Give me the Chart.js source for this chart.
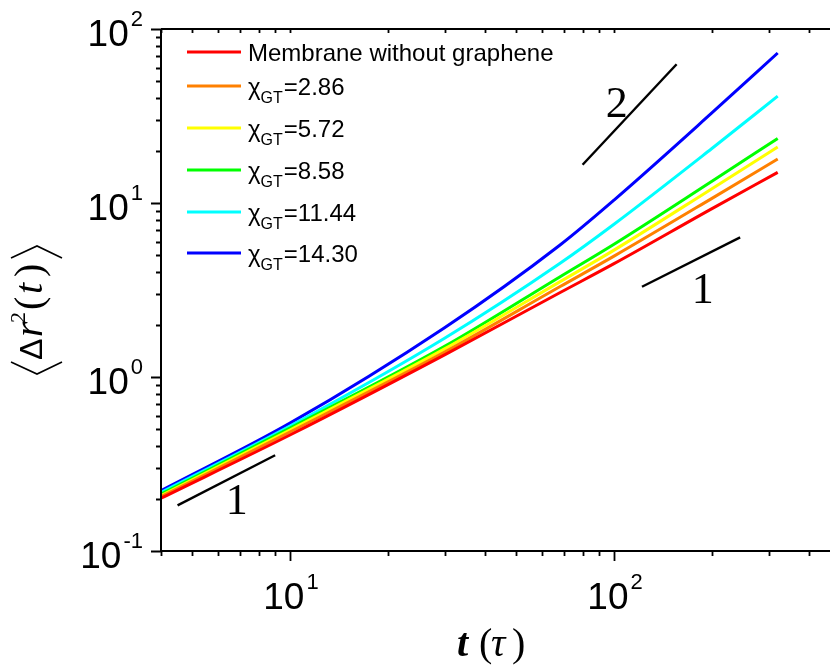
<!DOCTYPE html>
<html>
<head>
<meta charset="utf-8">
<title>Mean square displacement</title>
<script src="https://cdn.jsdelivr.net/npm/chart.js@4.4.1/dist/chart.umd.min.js"></script>
<style>
  html, body { margin: 0; padding: 0; background: #fff; }
  canvas { display: block; }
</style>
</head>
<body>
<canvas id="msdChart" width="830" height="671"></canvas>
<script>
// lag times (tau) at which the MSD curves are sampled
const lagTimes = [4, 10, 30, 68, 100, 200, 320];

// <dr^2(t)> for each membrane
const msdNoGraphene = [0.201, 0.464, 1.34, 3.05, 4.48, 9.25, 15.0];
const msdChi286 = [0.205, 0.483, 1.39, 3.30, 4.95, 10.6, 17.9];
const msdChi572 = [0.208, 0.496, 1.45, 3.52, 5.36, 12.05, 21.0];
const msdChi858 = [0.212, 0.509, 1.50, 3.76, 5.80, 13.3, 23.5];
const msdChi1144 = [0.217, 0.522, 1.67, 4.49, 7.55, 20.5, 41.1];
const msdChi1430 = [0.222, 0.543, 1.92, 5.72, 10.4, 32.8, 72.8];

const seriesLabels = ['Membrane without graphene', '2.86', '5.72', '8.58', '11.44', '14.30'];
const seriesColors = ['#ff0000', '#ff8000', '#ffff00', '#00ff00', '#00ffff', '#0000ff'];

// power-law guide segments [t, msd] and their slope labels
const guideSlope2 = [[80, 16.6], [156, 62.7]];
const guideSlope1Upper = [[122, 3.30], [245, 6.34]];
const guideSlope1Lower = [[4.5, 0.183], [9.0, 0.355]];
const guideLabels = ['2', '1', '1'];
const guideLabelPos = [[102, 31.2], [188, 2.65], [6.85, 0.163]];

// decade labels on both axes
const xDecades = [1, 2];
const yDecades = [-1, 0, 1, 2];

const SANS = '"Liberation Sans", Arial, sans-serif';
const SERIF = '"Liberation Serif", "Times New Roman", serif';

const allSeries = [msdNoGraphene, msdChi286, msdChi572, msdChi858, msdChi1144, msdChi1430];

const toPoints = (xs, ys) => xs.map((x, i) => ({ x: x, y: ys[i] }));
const segPoints = seg => seg.map(p => ({ x: p[0], y: p[1] }));

const datasets = allSeries.map((ys, i) => ({
  label: seriesLabels[i],
  data: toPoints(lagTimes, ys),
  borderColor: seriesColors[i],
  borderWidth: 3,
  pointRadius: 0,
  showLine: true,
  cubicInterpolationMode: 'monotone'
}));

[guideSlope2, guideSlope1Upper, guideSlope1Lower].forEach(seg => {
  datasets.push({
    label: 'guide',
    data: segPoints(seg),
    borderColor: '#000',
    borderWidth: 2.4,
    pointRadius: 0,
    showLine: true,
    tension: 0
  });
});

function logTicks(min, max) {
  const out = [];
  for (let d = Math.floor(Math.log10(min)); d <= Math.ceil(Math.log10(max)); d++) {
    for (let m = 1; m <= 9; m++) {
      const v = m * Math.pow(10, d);
      if (v >= min * 0.9999 && v <= max * 1.0001) out.push({ v: v, major: m === 1 });
    }
  }
  return out;
}

// "10" with a raised exponent
function drawPower(ctx, exp, x, baseline, align) {
  ctx.font = '37px ' + SANS;
  const wMain = ctx.measureText('10').width;
  ctx.font = '22px ' + SANS;
  const sup = exp < 0 ? '-' + Math.abs(exp) : String(exp);
  const wSup = ctx.measureText(sup).width;
  const total = wMain + 2 + wSup;
  const left = align === 'right' ? x - total : x - total / 2;
  ctx.textAlign = 'left';
  ctx.textBaseline = 'alphabetic';
  ctx.font = '37px ' + SANS;
  ctx.fillText('10', left, baseline);
  ctx.font = '22px ' + SANS;
  ctx.fillText(sup, left + wMain + 2, baseline - 20);
}

const framePlugin = {
  id: 'frame',
  afterDraw(chart) {
    const { ctx, chartArea: a, scales } = chart;
    const xs = scales.x, ys = scales.y;
    ctx.save();
    ctx.strokeStyle = '#000';
    ctx.fillStyle = '#000';
    ctx.lineWidth = 2;

    // axis lines: left, bottom, top
    ctx.beginPath();
    ctx.moveTo(a.left, a.top);
    ctx.lineTo(a.left, a.bottom);
    ctx.lineTo(a.right, a.bottom);
    ctx.moveTo(a.left, a.top);
    ctx.lineTo(a.right, a.top);
    ctx.stroke();

    ctx.lineWidth = 1.8;
    ctx.beginPath();
    logTicks(xs.min, xs.max).forEach(t => {
      const px = Math.round(xs.getPixelForValue(t.v)) + 0.5;
      ctx.moveTo(px, a.bottom);
      ctx.lineTo(px, a.bottom + (t.major ? 10 : 5));
      ctx.moveTo(px, a.top);
      ctx.lineTo(px, a.top + 4);
    });
    logTicks(ys.min, ys.max).forEach(t => {
      const py = Math.round(ys.getPixelForValue(t.v)) + 0.5;
      ctx.moveTo(a.left, py);
      ctx.lineTo(a.left - (t.major ? 10 : 5), py);
    });
    ctx.stroke();

    xDecades.forEach(d => {
      drawPower(ctx, d, xs.getPixelForValue(Math.pow(10, d)) + 1, a.bottom + 58, 'center');
    });
    yDecades.forEach(d => {
      drawPower(ctx, d, a.left - 18, ys.getPixelForValue(Math.pow(10, d)) + 17, 'right');
    });

    // slope labels next to the guides
    ctx.font = '44px ' + SERIF;
    ctx.textAlign = 'center';
    ctx.textBaseline = 'alphabetic';
    guideLabels.forEach((txt, i) => {
      const p = guideLabelPos[i];
      ctx.fillText(txt, xs.getPixelForValue(p[0]), ys.getPixelForValue(p[1]));
    });

    // x title: t (tau)
    ctx.textAlign = 'left';
    ctx.font = 'italic bold 40px ' + SERIF;
    ctx.fillText('t', 457, 656);
    ctx.font = '40px ' + SERIF;
    ctx.fillText('(', 479, 656);
    ctx.font = 'italic 40px ' + SERIF;
    ctx.fillText('\u03c4', 491, 656);
    ctx.font = '40px ' + SERIF;
    ctx.fillText(')', 512, 656);

    // y title: <dr^2(t)>, rotated
    ctx.translate(42, 375);
    ctx.rotate(-Math.PI / 2);
    ctx.lineWidth = 1.6;
    ctx.beginPath();
    ctx.moveTo(13, -31); ctx.lineTo(1, -5); ctx.lineTo(13, 20);
    ctx.moveTo(117, -31); ctx.lineTo(129, -5); ctx.lineTo(117, 20);
    ctx.stroke();
    ctx.font = '32px ' + SANS;
    ctx.fillText('\u0394', 15, 0);
    ctx.font = 'italic 40px ' + SERIF;
    ctx.fillText('r', 38, 0);
    ctx.font = '22px ' + SERIF;
    ctx.fillText('2', 52, -17);
    ctx.font = '40px ' + SERIF;
    ctx.fillText('(', 65, 0);
    ctx.font = 'italic 40px ' + SERIF;
    ctx.fillText('t', 81, 0);
    ctx.font = '40px ' + SERIF;
    ctx.fillText(')', 98, 0);

    ctx.restore();
  }
};

// legend inside the plot, top left
const legendPlugin = {
  id: 'insetLegend',
  afterDraw(chart) {
    const ctx = chart.ctx;
    const rows = [52, 86, 128, 170, 212, 253];
    ctx.save();
    ctx.textAlign = 'left';
    ctx.textBaseline = 'alphabetic';
    seriesLabels.forEach((lab, i) => {
      const y = rows[i];
      ctx.strokeStyle = seriesColors[i];
      ctx.lineWidth = 3;
      ctx.beginPath();
      ctx.moveTo(187, y);
      ctx.lineTo(241, y);
      ctx.stroke();
      ctx.fillStyle = '#000';
      if (i === 0) {
        ctx.font = '24px ' + SANS;
        ctx.fillText(lab, 248, y + 9);
      } else {
        ctx.font = '24px ' + SANS;
        ctx.fillText('\u03c7', 248, y + 9);
        const wChi = ctx.measureText('\u03c7').width;
        ctx.font = '16px ' + SANS;
        ctx.fillText('GT', 248 + wChi, y + 17);
        const wSub = ctx.measureText('GT').width;
        ctx.font = '24px ' + SANS;
        ctx.fillText('=' + lab, 248 + wChi + wSub + 1, y + 9);
      }
    });
    ctx.restore();
  }
};

new Chart(document.getElementById('msdChart').getContext('2d'), {
  type: 'scatter',
  data: { datasets: datasets },
  options: {
    responsive: false,
    animation: false,
    events: [],
    layout: { padding: { left: 161, top: 29, right: 0, bottom: 120 } },
    scales: {
      x: { type: 'logarithmic', min: 4, max: 464, display: false },
      y: { type: 'logarithmic', min: 0.1, max: 100, display: false }
    },
    plugins: {
      legend: { display: false },
      tooltip: { enabled: false }
    }
  },
  plugins: [framePlugin, legendPlugin]
});
</script>
</body>
</html>
